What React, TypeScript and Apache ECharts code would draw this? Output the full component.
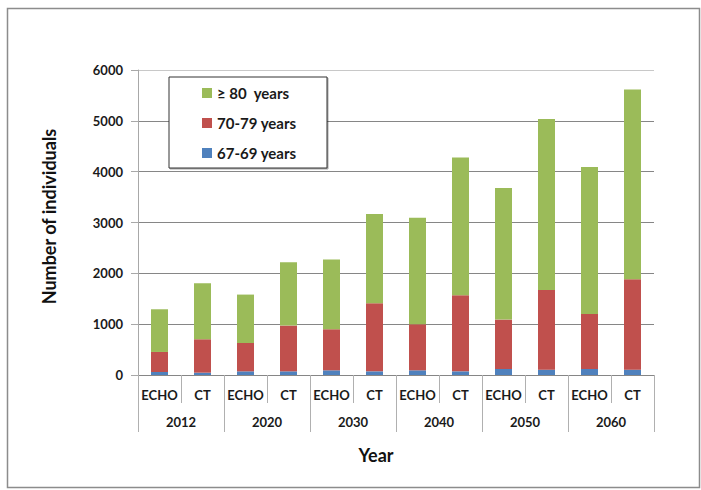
import React, { useEffect, useRef } from "react";
import * as echarts from "echarts";

const categories = ["ECHO", "CT", "ECHO", "CT", "ECHO", "CT", "ECHO", "CT", "ECHO", "CT", "ECHO", "CT"];
const years = ["2012", "2020", "2030", "2040", "2050", "2060"];
const age6769 = [59, 46, 72, 72, 92, 72, 92, 72, 118, 105, 118, 105];
const age7079 = [394, 657, 558, 900, 808, 1340, 906, 1497, 972, 1569, 1084, 1779];
const age80plus = [840, 1103, 952, 1247, 1372, 1753, 2095, 2712, 2587, 3362, 2889, 3730];
const yTicks = [0, 1000, 2000, 3000, 4000, 5000, 6000];

const FONT = "Lato";
const GRID_GRAY = "#868686";

export default function App() {
  const ref = useRef<HTMLDivElement>(null);
  useEffect(() => {
    if (!ref.current) return;
    const chart = echarts.init(ref.current, null, { renderer: "svg" });
    chart.setOption({
      animation: false,
      backgroundColor: "#ffffff",
      textStyle: { fontFamily: FONT },
      grid: { left: 138, right: 47, top: 70, bottom: 115, containLabel: false },
      legend: {
        orient: "vertical",
        left: 202,
        top: 85,
        padding: 0,
        itemGap: 14,
        itemWidth: 10,
        itemHeight: 10,
        icon: "rect",
        data: ["≥ 80  years", "70-79 years", "67-69 years"],
        textStyle: { fontFamily: FONT, fontSize: 15, fontWeight: "bold", color: "#1a1a1a", lineHeight: 16 },
      },
      xAxis: [
        {
          type: "category",
          data: categories,
          position: "bottom",
          axisLine: { show: true, lineStyle: { color: GRID_GRAY, width: 1 } },
          axisTick: { show: true, interval: 0, length: 28, alignWithLabel: false, lineStyle: { color: "#b0b0b0" } },
          axisLabel: { interval: 0, margin: 13, fontFamily: FONT, fontSize: 13, fontWeight: "bold", color: "#1a1a1a" },
          splitLine: { show: false },
        },
        {
          type: "category",
          data: years,
          position: "bottom",
          axisLine: { show: false },
          axisTick: { show: true, interval: 0, length: 57, alignWithLabel: false, lineStyle: { color: "#b0b0b0" } },
          axisLabel: { interval: 0, margin: 40, fontFamily: FONT, fontSize: 13, fontWeight: "bold", color: "#1a1a1a" },
          splitLine: { show: false },
        },
      ],
      yAxis: {
        type: "value",
        min: yTicks[0],
        max: yTicks[yTicks.length - 1],
        interval: 1000,
        name: "Number of individuals",
        nameLocation: "middle",
        nameGap: 80,
        nameTextStyle: { fontFamily: FONT, fontSize: 18, fontWeight: "bold", color: "#111", padding: [0, 0, 0, 12] },
        axisLine: { show: true, lineStyle: { color: "#a8a8a8" } },
        axisTick: { show: true, length: 7, lineStyle: { color: "#a8a8a8" } },
        axisLabel: {
          margin: 15,
          fontFamily: FONT,
          fontSize: 13,
          fontWeight: "bold",
          color: "#1a1a1a",
          formatter: (v: number) => String(v),
        },
        splitLine: {
          show: true,
          lineStyle: { color: [GRID_GRAY, GRID_GRAY, GRID_GRAY, GRID_GRAY, GRID_GRAY, GRID_GRAY, "#c8c8c8"], width: 1 },
        },
      },
      series: [
        {
          name: "67-69 years",
          type: "bar",
          stack: "total",
          barWidth: 17,
          xAxisIndex: 0,
          itemStyle: { color: "#4F81BD" },
          data: age6769,
        },
        {
          name: "70-79 years",
          type: "bar",
          stack: "total",
          barWidth: 17,
          xAxisIndex: 0,
          itemStyle: { color: "#C0504D" },
          data: age7079,
        },
        {
          name: "≥ 80  years",
          type: "bar",
          stack: "total",
          barWidth: 17,
          xAxisIndex: 0,
          itemStyle: { color: "#9BBB59" },
          data: age80plus,
        },
      ],
      graphic: [
        {
          type: "rect",
          left: 5,
          top: 6,
          shape: { x: 0, y: 0, width: 692, height: 479 },
          style: { fill: "none", stroke: "#8c8c8c", lineWidth: 1.5 },
          silent: true,
          z: -1,
        },
        {
          type: "rect",
          shape: { x: 169, y: 77, width: 158, height: 91 },
          style: { fill: "#ffffff", stroke: "#333333", lineWidth: 1, shadowColor: "rgba(0,0,0,0.35)", shadowOffsetX: 1, shadowOffsetY: 1, shadowBlur: 1 },
          silent: true,
          z: 1,
        },
        {
          type: "text",
          x: 376,
          y: 455,
          style: {
            text: "Year",
            fontFamily: FONT,
            fontSize: 18,
            fontWeight: "bold",
            fill: "#111",
            align: "center",
            verticalAlign: "middle",
          },
          silent: true,
        },
      ],
    });
    return () => chart.dispose();
  }, []);
  return <div ref={ref} style={{ position: "absolute", left: 0, top: 0, width: 701, height: 490 }} />;
}
